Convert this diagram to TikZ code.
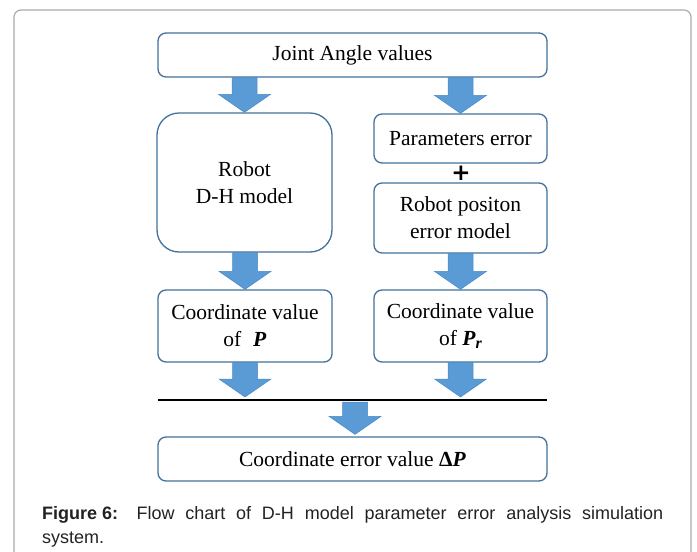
\documentclass[tikz,border=0pt]{standalone}
\usepackage{fontspec}
\setmainfont{Liberation Serif}
\newfontfamily\capfont{Liberation Sans}
\newfontfamily\plusfont{DejaVu Sans}
\usetikzlibrary{calc}

\definecolor{boxline}{HTML}{41719C}
\definecolor{arrowfill}{HTML}{5B9BD5}
\definecolor{arrowline}{HTML}{4A88C4}
\definecolor{framegray}{HTML}{ABABAB}
\definecolor{captext}{HTML}{222222}

\hbadness=10000

\tikzset{
  flowbox/.style={draw=boxline, line width=1.3pt, rounded corners=8pt,
    inner sep=0pt, align=center, fill=white,
    font=\fontsize{21.5}{27}\selectfont},
  flowarrow/.style={fill=arrowfill, draw=arrowline, line width=0.5pt},
}

% Wide block arrow pointing down: from the height of #1 to the tip at #2
\newcommand\blockarrow[2]{%
  \path[flowarrow] let \p1=#1, \p2=#2 in
    (\x2-12.5pt,\y1) -- (\x2+12.5pt,\y1) -- (\x2+12.5pt,\y2+18pt)
    -- (\x2+26pt,\y2+18pt) -- (\x2,\y2) -- (\x2-26pt,\y2+18pt)
    -- (\x2-12.5pt,\y2+18pt) -- cycle;}

\newcommand\bP{\textbf{\textit{P}}}

\begin{document}
\begin{tikzpicture}[x=1pt, y=-1pt]
  \useasboundingbox (0,0) rectangle (697,552);

  % outer frame, open at the bottom
  \draw[framegray, line width=1.2pt, rounded corners=7pt]
    (14,600) -- (14,10) -- (691,10) -- (691,600);

  % boxes
  \node[flowbox, minimum width=389pt, minimum height=44pt] (top) at (352.5,55) {Joint Angle values};
  \node[flowbox, rounded corners=22pt, minimum width=175pt, minimum height=139pt] (dh) at (244.5,182.5) {Robot\\D-H model};
  \node[flowbox, minimum width=173pt, minimum height=49pt] (perr) at (460.5,138.5) {Parameters error};
  \node[font=\plusfont\bfseries\fontsize{23}{23}\selectfont, inner sep=0pt] (plus) at (461,173.5) {+};
  \node[flowbox, minimum width=173pt, minimum height=70pt] (pos) at (460.5,218) {Robot positon\\error model};
  \node[flowbox, minimum width=174pt, minimum height=72pt] (cp) at (245,326) {Coordinate value\\of\hspace{0.55em}\bP};
  \node[flowbox, minimum width=173pt, minimum height=72pt] (cpr) at (460.5,326)
    {Coordinate value\\of \bP\raisebox{-0.35ex}{\fontsize{16}{16}\selectfont\textbf{\textit{r}}}};
  \node[flowbox, minimum width=389pt, minimum height=44pt] (res) at (352.5,459)
    {Coordinate error value \textbf{Δ}\bP};

  % joining line
  \coordinate (lineL) at (158,400);
  \coordinate (lineR) at (547,400);
  \draw[line width=2pt] (lineL) -- (lineR);

  % arrows
  \blockarrow{(top.south)}{(dh.north)}
  \blockarrow{(top.south)}{(perr.north)}
  \blockarrow{(dh.south)}{(cp.north)}
  \blockarrow{(pos.south)}{(cpr.north)}
  \blockarrow{(cp.south)}{($(cp.south |- lineL)+(0,-3)$)}
  \blockarrow{(cpr.south)}{($(cpr.south |- lineL)+(0,-3)$)}
  \blockarrow{($(lineL)+(0,2)$)}{($(res.north)+(2.5,-2)$)}

  % caption
  \node[anchor=base west, inner sep=0pt, text=captext,
        font=\capfont\fontsize{18}{24}\selectfont] (cap) at (42,519)
    {\parbox[t]{621pt}{\textbf{Figure\hspace{0.28em}6:} Flow chart of D-H model parameter error analysis simulation\linebreak system.}};
\end{tikzpicture}
\end{document}
